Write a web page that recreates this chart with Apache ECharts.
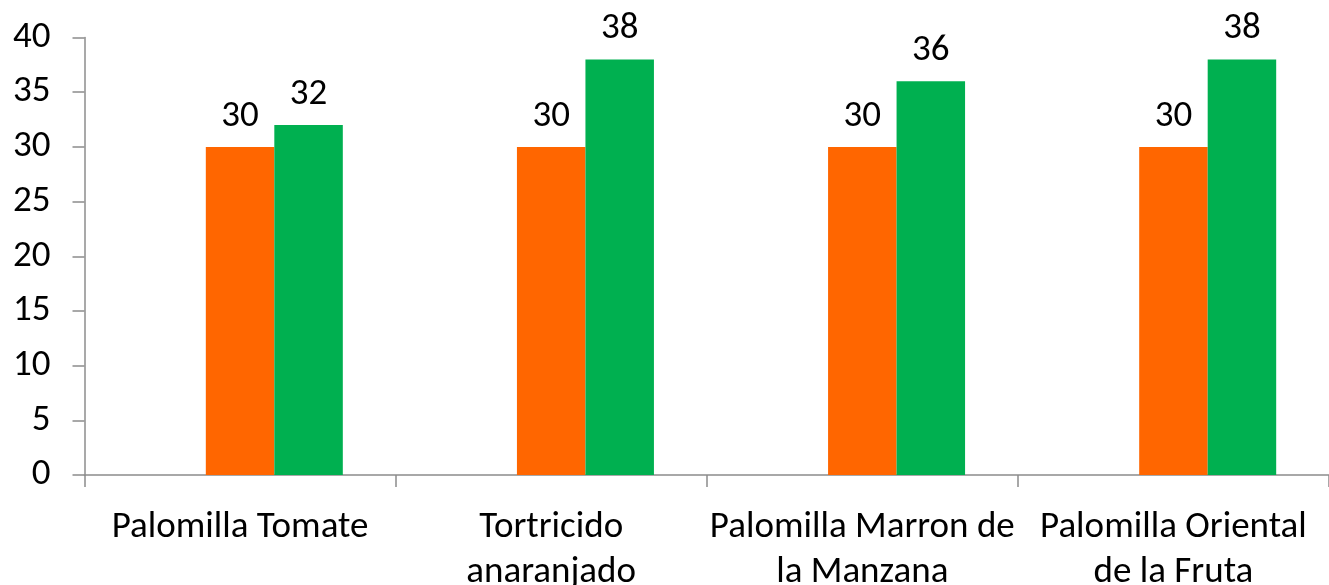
<!DOCTYPE html>
<html><head><meta charset="utf-8">
<script src="https://cdn.jsdelivr.net/npm/echarts@6/dist/echarts.min.js"></script>
<style>html,body{margin:0;padding:0;background:#fff}#c{width:1329px;height:585px}</style>
</head><body><div id="c"></div>
<script>
const categories = ["Palomilla Tomate", "Tortricido\nanaranjado", "Palomilla Marron de\nla Manzana", "Palomilla Oriental\nde la Fruta"];
const seriesEmpty = [null, null, null, null];
const seriesOrange = [30, 30, 30, 30];
const seriesGreen = [32, 38, 36, 38];
const yTicks = {min: 0, max: 40, interval: 5};
const FONT = "Carlito, Lato, 'Liberation Sans', sans-serif";
const chart = echarts.init(document.getElementById('c'));
const lbl = {show: true, position: 'top', distance: 12, fontSize: 37, color: '#000', fontFamily: FONT};
chart.setOption({
  animation: false,
  grid: {left: 84.5, right: 0, top: 37.5, bottom: 110, containLabel: false, outerBoundsMode: 'none'},
  xAxis: {
    type: 'category', data: categories,
    axisLine: {lineStyle: {color: '#8c8c8c', width: 1.5}},
    axisTick: {show: true, length: 12, lineStyle: {color: '#8c8c8c', width: 1.5}},
    axisLabel: {fontSize: 37, color: '#000', fontFamily: FONT, margin: 30, lineHeight: 45, interval: 0}
  },
  yAxis: {
    type: 'value', min: yTicks.min, max: yTicks.max, interval: yTicks.interval,
    splitLine: {show: false},
    axisLine: {show: true, lineStyle: {color: '#8c8c8c', width: 1.5}},
    axisTick: {show: true, length: 12, lineStyle: {color: '#8c8c8c', width: 1.5}},
    axisLabel: {fontSize: 37, color: '#000', fontFamily: FONT, margin: 34}
  },
  series: [
    {type: 'bar', data: seriesEmpty, barWidth: 68.5, barGap: '0%', itemStyle: {color: 'transparent'}},
    {type: 'bar', data: seriesOrange, barWidth: 68.5, barGap: '0%', itemStyle: {color: '#FF6600'}, label: lbl},
    {type: 'bar', data: seriesGreen, barWidth: 68.5, barGap: '0%', itemStyle: {color: '#00B050'}, label: lbl}
  ]
});
</script></body></html>
